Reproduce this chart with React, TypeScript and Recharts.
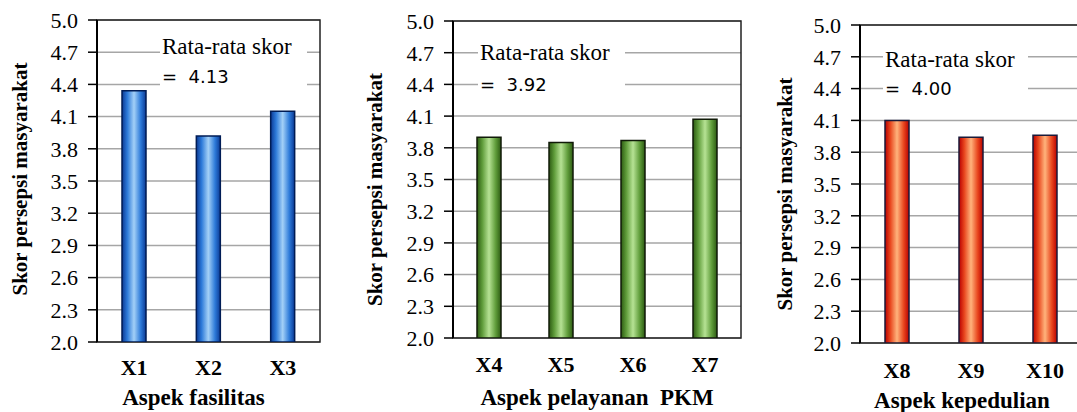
import React from 'react';
import { BarChart, Bar, XAxis, YAxis, CartesianGrid, ReferenceArea, Label } from 'recharts';

const fasilitasCats = ['X1', 'X2', 'X3'];
const fasilitasVals = [4.34, 3.92, 4.15];
const pelayananCats = ['X4', 'X5', 'X6', 'X7'];
const pelayananVals = [3.9, 3.85, 3.87, 4.07];
const kepedulianCats = ['X8', 'X9', 'X10'];
const kepedulianVals = [4.1, 3.94, 3.96];
const yTicks = [2.0, 2.3, 2.6, 2.9, 3.2, 3.5, 3.8, 4.1, 4.4, 4.7, 5.0];
const meanLabels = ['4.13', '3.92', '4.00'];
const xTitles = ['Aspek fasilitas', 'Aspek pelayanan  PKM', 'Aspek kepedulian'];
const yTitle = 'Skor persepsi masyarakat';

const FONT = 'Liberation Serif';
const SANS = 'DejaVu Sans';

type Panel = {
  cats: string[];
  vals: number[];
  id: string;
  stops: string[];
  stroke: string;
  xTitle: string;
  mean: string;
  left: number;
  width: number;
  yAxisWidth: number;
  mTop: number;
  mRight: number;
  mBottom: number;
  xTickMargin: number;
  xTitleDy: number;
  xTitleDx: number;
  yTitleX: number;
  yTitleDy: number;
  box: { left: number; top: number; width: number; height: number; lh: number };
};

function ChartPanel(p: Panel) {
  const data = p.cats.map((c, i) => ({ name: c, v: p.vals[i] }));
  const bounds = p.cats.map((_, i) => i).concat([p.cats.length]);
  return (
    <div style={{ position: 'absolute', left: p.left, top: 0, width: p.width, height: 412 }}>
      <BarChart
        width={p.width}
        height={412}
        data={data}
        margin={{ top: p.mTop, right: p.mRight, bottom: p.mBottom, left: 0 }}
      >
        <defs>
          <linearGradient id={p.id} x1="0" y1="0" x2="1" y2="0">
            <stop offset="0%" stopColor={p.stops[0]} />
            <stop offset="22%" stopColor={p.stops[1]} />
            <stop offset="50%" stopColor={p.stops[2]} />
            <stop offset="78%" stopColor={p.stops[1]} />
            <stop offset="100%" stopColor={p.stops[0]} />
          </linearGradient>
        </defs>
        <CartesianGrid vertical={false} stroke="#a6a6a6" strokeWidth={1.5} xAxisId="a" />
        <XAxis
          xAxisId="b"
          type="number"
          domain={[0, p.cats.length]}
          ticks={bounds}
          interval={0}
          tick={false}
          tickSize={9}
          height={0}
          axisLine={{ stroke: '#000', strokeWidth: 2 }}
          tickLine={{ stroke: '#000', strokeWidth: 2 }}
        />
        <XAxis
          xAxisId="a"
          dataKey="name"
          interval={0}
          axisLine={false}
          tickLine={false}
          tickSize={0}
          tickMargin={p.xTickMargin}
          height={40}
          tick={{ fontFamily: FONT, fontSize: 22, fontWeight: 'bold', fill: '#000' }}
        >
          <Label
            content={(lp: any) => {
              const vb = lp.viewBox || {};
              return (
                <text
                  x={vb.x + vb.width / 2 + p.xTitleDx}
                  y={vb.y + p.xTitleDy}
                  textAnchor="middle"
                  dominantBaseline="central"
                  fontFamily={FONT}
                  fontSize={23}
                  fontWeight="bold"
                  fill="#000"
                  style={{ whiteSpace: 'pre', fontFamily: FONT }}
                >
                  {p.xTitle}
                </text>
              );
            }}
          />
        </XAxis>
        <YAxis
          type="number"
          domain={[2, 5]}
          ticks={yTicks}
          interval={0}
          width={p.yAxisWidth}
          tickFormatter={(v: number) => v.toFixed(1)}
          tickSize={9}
          tickMargin={10}
          axisLine={{ stroke: '#000', strokeWidth: 2 }}
          tickLine={{ stroke: '#000', strokeWidth: 1.5 }}
          tick={{ fontFamily: FONT, fontSize: 22, fill: '#000' }}
          allowDataOverflow
        >
          <Label
            content={(lp: any) => {
              const vb = lp.viewBox || {};
              const cx = vb.x + p.yTitleX;
              const cy = vb.y + vb.height / 2 + p.yTitleDy;
              return (
                <text
                  x={cx}
                  y={cy}
                  transform={`rotate(-90, ${cx}, ${cy})`}
                  textAnchor="middle"
                  dominantBaseline="central"
                  fontFamily={FONT}
                  fontSize={21}
                  fontWeight="bold"
                  fill="#000"
                  style={{ fontFamily: FONT }}
                >
                  {yTitle}
                </text>
              );
            }}
          />
        </YAxis>
        <ReferenceArea xAxisId="a" y1={2} y2={5} fill="none" stroke="#222" strokeWidth={1.5} />
        <Bar
          xAxisId="a"
          dataKey="v"
          barSize={24}
          fill={`url(#${p.id})`}
          stroke={p.stroke}
          strokeWidth={1.5}
          isAnimationActive={false}
        />
      </BarChart>
      <div
        style={{
          position: 'absolute',
          left: p.box.left - p.left,
          top: p.box.top,
          width: p.box.width,
          height: p.box.height,
          background: '#fff',
          fontFamily: FONT,
          fontSize: 23,
          lineHeight: `${p.box.lh}px`,
          color: '#000',
          paddingLeft: 2,
          boxSizing: 'border-box',
          whiteSpace: 'pre',
        }}
      >
        <div>Rata-rata skor</div>
        <div style={{ fontFamily: SANS, fontSize: 18 }}>{`=  ${p.mean}`}</div>
      </div>
    </div>
  );
}

export default function App() {
  const panels: Panel[] = [
    {
      cats: fasilitasCats,
      vals: fasilitasVals,
      id: 'gBlue',
      stops: ['#0b3994', '#2d7ad9', '#a3d0f7'],
      stroke: '#001c55',
      xTitle: xTitles[0],
      mean: meanLabels[0],
      left: 0,
      width: 330,
      yAxisWidth: 97,
      mTop: 20,
      mRight: 10,
      mBottom: 30,
      xTickMargin: 17,
      xTitleDy: 55,
      xTitleDx: -15,
      yTitleX: 20,
      yTitleDy: -2,
      box: { left: 160, top: 32, width: 147, height: 62, lh: 30 },
    },
    {
      cats: pelayananCats,
      vals: pelayananVals,
      id: 'gGreen',
      stops: ['#2c5a12', '#5f9c3a', '#b6e294'],
      stroke: '#101a08',
      xTitle: xTitles[1],
      mean: meanLabels[1],
      left: 360,
      width: 390,
      yAxisWidth: 93,
      mTop: 21,
      mRight: 9,
      mBottom: 34,
      xTickMargin: 18,
      xTitleDy: 59,
      xTitleDx: 0,
      yTitleX: 15,
      yTitleDy: 10,
      box: { left: 478, top: 37, width: 147, height: 64, lh: 32 },
    },
    {
      cats: kepedulianCats,
      vals: kepedulianVals,
      id: 'gRed',
      stops: ['#b80000', '#e8461e', '#ffb37c'],
      stroke: '#1a1a3a',
      xTitle: xTitles[2],
      mean: meanLabels[2],
      left: 760,
      width: 330,
      yAxisWidth: 100,
      mTop: 25,
      mRight: 8,
      mBottom: 29,
      xTickMargin: 19,
      xTitleDy: 57,
      xTitleDx: -9,
      yTitleX: 25,
      yTitleDy: 10,
      box: { left: 883, top: 45, width: 145, height: 58, lh: 29 },
    },
  ];
  return (
    <div
      style={{
        position: 'absolute',
        left: 0,
        top: 0,
        width: 1077,
        height: 412,
        overflow: 'hidden',
        background: '#fff',
      }}
    >
      {panels.map((p) => (
        <ChartPanel key={p.id} {...p} />
      ))}
    </div>
  );
}
